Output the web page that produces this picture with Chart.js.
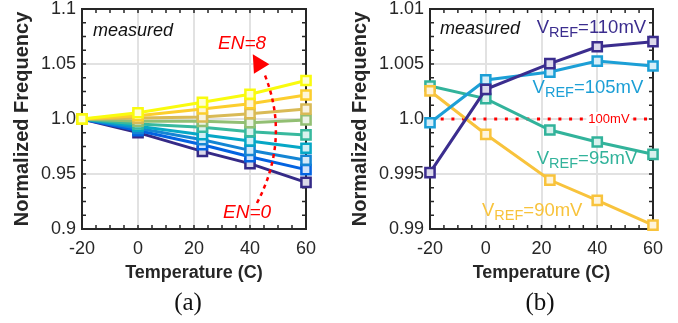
<!DOCTYPE html>
<html>
<head>
<meta charset="utf-8">
<script src="https://cdn.jsdelivr.net/npm/chart.js@4.4.1/dist/chart.umd.min.js"></script>
<style>
  html, body { margin: 0; padding: 0; background: #fff; }
  #wrap { position: relative; width: 678px; height: 323px; }
  canvas { position: absolute; top: 0; }
  #chartA { left: 0; }
  #chartB { left: 339px; }
</style>
</head>
<body>
<div id="wrap">
  <canvas id="chartA" width="339" height="323"></canvas>
  <canvas id="chartB" width="339" height="323"></canvas>
</div>
<script>
const temps = [-20, 0, 23, 40, 60];
const xTicks = [-20, 0, 20, 40, 60];

// (a) one line per EN code, EN=0 .. EN=8
const en0 = [1, 0.9876, 0.9706, 0.9594, 0.9424];
const en1 = [1, 0.9895, 0.9766, 0.9657, 0.9540];
const en2 = [1, 0.9915, 0.9812, 0.9715, 0.9625];
const en3 = [1, 0.9935, 0.9857, 0.9800, 0.9734];
const en4 = [1, 0.9955, 0.9925, 0.9885, 0.9855];
const en5 = [1, 0.9980, 0.9979, 0.9966, 0.9992];
const en6 = [1, 1.0008, 1.0018, 1.0048, 1.0090];
const en7 = [1, 1.0030, 1.0091, 1.0139, 1.0218];
const en8 = [1, 1.0057, 1.0152, 1.0225, 1.0350];
const enSeries = [en0, en1, en2, en3, en4, en5, en6, en7, en8];
const enColors = ["#352a87", "#0363e1", "#1485d4", "#06a7c6", "#38b99e", "#92bf73", "#d9ba56", "#fcce2e", "#f9fb0e"];
const yTicksA = [0.9, 0.95, 1.0, 1.05, 1.1];
const yTickLabelsA = ["0.9", "0.95", "1.0", "1.05", "1.1"];

// (b) one line per reference voltage
const vref110 = [0.99512, 1.0027, 1.00503, 1.00657, 1.00703];
const vref105 = [0.99966, 1.00355, 1.00427, 1.00527, 1.00482];
const vref95 = [1.0030, 1.00185, 0.9990, 0.99791, 0.99679];
const vref90 = [1.00255, 0.99861, 0.99445, 0.99261, 0.99036];
const ref100 = [1, 1, 1, 1, 1];
const vrefColors = { v110: "#3b2d8e", v105: "#1c9fd6", v95: "#32b39b", v90: "#f8c33c" };
const yTicksB = [0.99, 0.995, 1.0, 1.005, 1.01];
const yTickLabelsB = ["0.99", "0.995", "1.0", "1.005", "1.01"];

const SANS = "'Liberation Sans', Arial, sans-serif";
const INK = "#262626";

function tint(hex, f) {
  const n = parseInt(hex.slice(1), 16);
  const mix = c => Math.round(c + (255 - c) * f);
  return `rgb(${mix(n >> 16)}, ${mix((n >> 8) & 255)}, ${mix(n & 255)})`;
}

function lineSet(label, values, color) {
  return {
    label,
    data: temps.map((t, i) => ({ x: t, y: values[i] })),
    borderColor: color,
    borderWidth: 3,
    pointStyle: "rect",
    pointRadius: 6.5,
    pointBorderWidth: 2.5,
    pointBackgroundColor: tint(color, 0.82),
    pointBorderColor: color,
    tension: 0,
    clip: false
  };
}

// box round the plot with short inward ticks on all four sides
function framePlugin(xStep, yStep) {
  return {
    id: "frame",
    beforeDatasetsDraw(chart) {
      const { ctx, chartArea: a, scales: { x, y } } = chart;
      ctx.save();
      ctx.strokeStyle = INK;
      ctx.lineWidth = 1.5;
      ctx.beginPath();
      const nx = Math.round((x.max - x.min) / xStep);
      for (let i = 1; i < nx; i++) {
        const px = x.getPixelForValue(x.min + i * xStep);
        ctx.moveTo(px, a.bottom); ctx.lineTo(px, a.bottom - 4);
        ctx.moveTo(px, a.top); ctx.lineTo(px, a.top + 4);
      }
      const ny = Math.round((y.max - y.min) / yStep);
      for (let i = 1; i < ny; i++) {
        const py = y.getPixelForValue(y.min + i * yStep);
        ctx.moveTo(a.left, py); ctx.lineTo(a.left + 4, py);
        ctx.moveTo(a.right, py); ctx.lineTo(a.right - 4, py);
      }
      ctx.stroke();
      ctx.lineWidth = 2;
      ctx.strokeRect(a.left, a.top, a.right - a.left, a.bottom - a.top);
      ctx.restore();
    }
  };
}

function text(ctx, str, x, y, font, color, align, base) {
  ctx.font = font;
  ctx.fillStyle = color;
  ctx.textAlign = align || "left";
  ctx.textBaseline = base || "middle";
  ctx.fillText(str, x, y);
  return ctx.measureText(str).width;
}

function drawVref(ctx, x, y, tail, color) {
  let w = text(ctx, "V", x, y, `18.5px ${SANS}`, color, "left", "alphabetic");
  w += text(ctx, "REF", x + w, y + 4, `14.5px ${SANS}`, color, "left", "alphabetic");
  text(ctx, tail, x + w, y, `18.5px ${SANS}`, color, "left", "alphabetic");
}

function axes(yTicks, yLabels, yMin, yMax, yWidth, titlePad) {
  return {
    x: {
      type: "linear",
      min: -20, max: 60,
      afterBuildTicks: s => { s.ticks = xTicks.map(v => ({ value: v })); },
      afterFit: s => { s.height = 55; s.paddingLeft = 0; s.paddingRight = 0; },
      grid: { color: "#e2e2e2", lineWidth: 2, drawTicks: false },
      border: { display: false },
      ticks: { padding: 9, color: INK, font: { family: SANS, size: 18 } },
      title: { display: true, text: "Temperature (C)", color: INK, padding: 0, font: { family: SANS, size: 18, weight: "bold" } }
    },
    y: {
      min: yMin, max: yMax,
      afterBuildTicks: s => { s.ticks = yTicks.map(v => ({ value: v })); },
      afterFit: s => { s.width = yWidth; s.paddingTop = 0; s.paddingBottom = 0; },
      grid: { color: "#e2e2e2", lineWidth: 2, drawTicks: false },
      border: { display: false },
      ticks: { padding: 6, color: INK, font: { family: SANS, size: 18 }, callback: (v, i) => yLabels[i] },
      title: { display: true, text: "Normalized Frequency", color: INK, padding: { top: titlePad, bottom: 0 }, font: { family: SANS, size: 20, weight: "bold" } }
    }
  };
}

function notesA(chart) {
  const { ctx, scales: { x, y } } = chart;
  ctx.save();
  text(ctx, "measured", x.getPixelForValue(-16.1), y.getPixelForValue(1.08), `italic 18px ${SANS}`, "#111");
  text(ctx, "EN=8", x.getPixelForValue(28.6), y.getPixelForValue(1.068), `italic 19px ${SANS}`, "#ff0000");
  text(ctx, "EN=0", x.getPixelForValue(30.4), y.getPixelForValue(0.9145), `italic 19px ${SANS}`, "#ff0000");
  // dotted arc from EN=0 up to EN=8
  ctx.strokeStyle = "#ff0000";
  ctx.lineWidth = 2.5;
  ctx.setLineDash([4, 4]);
  ctx.beginPath();
  ctx.moveTo(x.getPixelForValue(42.5), y.getPixelForValue(0.9236));
  ctx.quadraticCurveTo(x.getPixelForValue(54.6), y.getPixelForValue(0.9827), x.getPixelForValue(45), y.getPixelForValue(1.0418));
  ctx.stroke();
  ctx.setLineDash([]);
  ctx.fillStyle = "#ff0000";
  ctx.beginPath();
  ctx.moveTo(x.getPixelForValue(41), y.getPixelForValue(1.0588));
  ctx.lineTo(x.getPixelForValue(46.9), y.getPixelForValue(1.0497));
  ctx.lineTo(x.getPixelForValue(41.4), y.getPixelForValue(1.0412));
  ctx.closePath();
  ctx.fill();
  text(ctx, "(a)", 188, 303, `25px 'Liberation Serif', 'Times New Roman', serif`, "#111", "center");
  ctx.restore();
}

function notesB(chart) {
  const { ctx, scales: { x, y } } = chart;
  ctx.save();
  text(ctx, "measured", x.getPixelForValue(-16.4), y.getPixelForValue(1.00818), `italic 18px ${SANS}`, "#111");
  drawVref(ctx, x.getPixelForValue(18.3), y.getPixelForValue(1.00782), "=110mV", vrefColors.v110);
  drawVref(ctx, x.getPixelForValue(16.8), y.getPixelForValue(1.00239), "=105mV", vrefColors.v105);
  drawVref(ctx, x.getPixelForValue(18.3), y.getPixelForValue(0.99588), "=95mV", vrefColors.v95);
  drawVref(ctx, x.getPixelForValue(-1.35), y.getPixelForValue(0.99118), "=90mV", vrefColors.v90);
  const cx = x.getPixelForValue(44.2), cy = y.getPixelForValue(1.0);
  ctx.font = `13px ${SANS}`;
  const w = ctx.measureText("100mV").width;
  ctx.fillStyle = "#fff";
  ctx.fillRect(cx - w / 2 - 2, cy - 7, w + 4, 14);
  text(ctx, "100mV", cx, cy, `13px ${SANS}`, "#ff0000", "center");
  text(ctx, "(b)", 201, 303, `25px 'Liberation Serif', 'Times New Roman', serif`, "#111", "center");
  ctx.restore();
}

function loadChartA() {
  // EN=8 first so it is drawn on top
  const datasets = enSeries.map((vals, i) => lineSet(`EN=${i}`, vals, enColors[i])).reverse();
  new Chart(document.getElementById("chartA"), {
    type: "line",
    data: { datasets },
    options: {
      responsive: false,
      animation: false,
      devicePixelRatio: 1,
      layout: { padding: { left: 0, right: 33, top: 8, bottom: 39 } },
      plugins: { legend: { display: false }, tooltip: { enabled: false } },
      scales: axes(yTicksA, yTickLabelsA, 0.9, 1.1, 82, 10)
    },
    plugins: [framePlugin(5, 0.0125), { id: "notesA", afterDraw: notesA }]
  });
}

function loadChartB() {
  const ref = {
    label: "100mV",
    data: temps.map((t, i) => ({ x: t, y: ref100[i] })),
    borderColor: "#ff0000",
    borderWidth: 3,
    borderDash: [3, 7.7],
    pointRadius: 0,
    clip: false
  };
  new Chart(document.getElementById("chartB"), {
    type: "line",
    data: {
      datasets: [
        lineSet("110mV", vref110, vrefColors.v110),
        lineSet("105mV", vref105, vrefColors.v105),
        lineSet("90mV", vref90, vrefColors.v90),
        lineSet("95mV", vref95, vrefColors.v95),
        ref
      ]
    },
    options: {
      responsive: false,
      animation: false,
      devicePixelRatio: 1,
      layout: { padding: { left: 0, right: 25, top: 8, bottom: 39 } },
      plugins: { legend: { display: false }, tooltip: { enabled: false } },
      scales: axes(yTicksB, yTickLabelsB, 0.99, 1.01, 91, 9)
    },
    plugins: [framePlugin(5, 0.00125), { id: "notesB", afterDraw: notesB }]
  });
}

loadChartA();
loadChartB();
</script>
</body>
</html>
